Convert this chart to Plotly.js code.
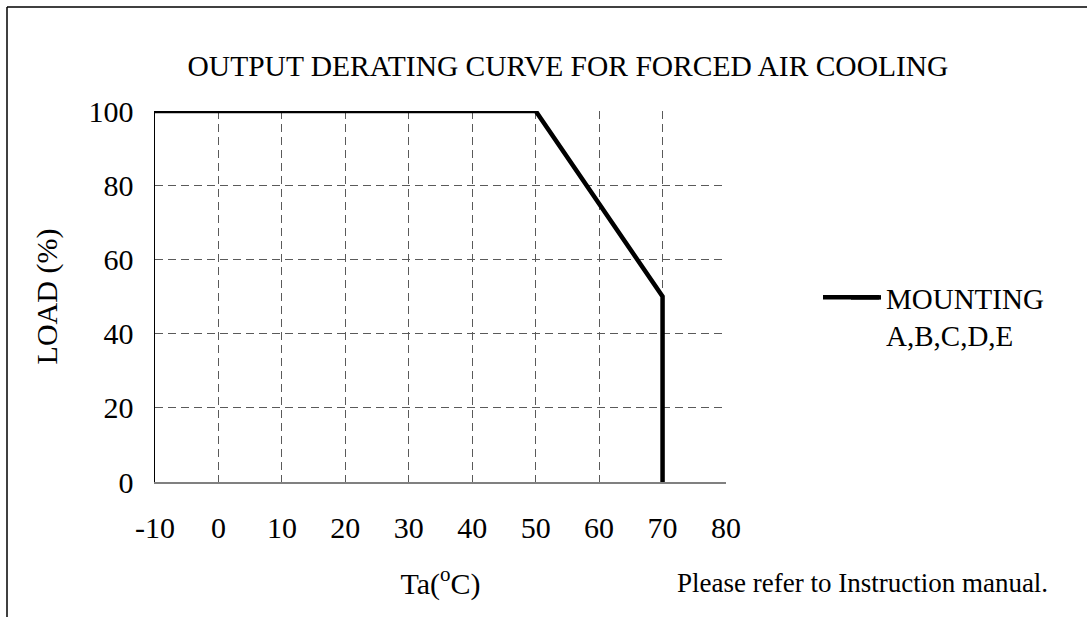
<!DOCTYPE html>
<html>
<head>
<meta charset="utf-8">
<script src="https://cdn.plot.ly/plotly-3.0.1.min.js"></script>
<style>
html,body{margin:0;padding:0;background:#fff;}
#chart{width:1087px;height:617px;}
</style>
</head>
<body>
<div id="chart"></div>
<script>
// Data
var temperature = [-10, 50, 70, 70];      // Ta (°C)
var loadPercent = [100, 100, 50, 0];      // LOAD (%)
var seriesName = "MOUNTING<br>A,B,C,D,E";
var xTicks = [-10, 0, 10, 20, 30, 40, 50, 60, 70, 80];
var yTicks = [0, 20, 40, 60, 80, 100];

var FONT = "Liberation Serif, Times New Roman, serif";

// pixel -> paper helpers (plot area: x 155..726, y 111..482)
function px(x) { return (x - 155) / 571; }
function py(y) { return (482 - y) / 371; }

var trace = {
  x: temperature,
  y: loadPercent,
  type: "scatter",
  mode: "lines",
  name: seriesName,
  line: {color: "#000000", width: 4.5},
  cliponaxis: false,
  hoverinfo: "x+y"
};

var layout = {
  width: 1087,
  height: 617,
  margin: {l: 155, r: 361, t: 111, b: 135},
  paper_bgcolor: "#ffffff",
  plot_bgcolor: "#ffffff",
  font: {family: FONT, color: "#000000", size: 30},
  title: {
    text: "OUTPUT DERATING CURVE FOR FORCED AIR COOLING",
    font: {family: FONT, size: 29.5, color: "#000000"},
    xref: "paper", x: px(568), xanchor: "center",
    yref: "container", y: 1 - 66/617, yanchor: "middle"
  },
  xaxis: {
    range: [-10, 80],
    tickvals: xTicks,
    ticktext: xTicks.map(String),
    showgrid: true,
    gridcolor: "#5a5a5a",
    gridwidth: 1,
    griddash: "8px,5px",
    zeroline: false,
    showline: true,
    linecolor: "#808080",
    linewidth: 2,
    ticks: "",
    ticklabelstandoff: 18,
    tickfont: {family: FONT, size: 30, color: "#000000"},
    title: {text: "Ta(<sup>o</sup>C)", font: {family: FONT, size: 30, color: "#000000"}, standoff: 30},
    automargin: false,
    fixedrange: true
  },
  yaxis: {
    range: [0, 100],
    tickvals: yTicks,
    ticktext: yTicks.map(String),
    showgrid: true,
    gridcolor: "#5a5a5a",
    gridwidth: 1,
    griddash: "8px,5px",
    zeroline: false,
    showline: true,
    linecolor: "#000000",
    linewidth: 1.5,
    ticks: "",
    ticklabelstandoff: 14,
    tickfont: {family: FONT, size: 30, color: "#000000"},
    title: {text: "LOAD (%)", font: {family: FONT, size: 30, color: "#000000"}, standoff: 22},
    automargin: false,
    fixedrange: true
  },
  showlegend: true,
  legend: {
    x: px(846), xanchor: "left",
    y: py(272), yanchor: "top",
    valign: "top",
    bgcolor: "rgba(0,0,0,0)",
    borderwidth: 0,
    font: {family: FONT, size: 29, color: "#000000"},
    itemwidth: 30,
    tracegroupgap: 0
  },
  shapes: [
    // outer frame (left and top edges)
    {type: "line", xref: "paper", yref: "paper",
     x0: px(7), x1: px(7), y0: py(7), y1: py(640),
     line: {color: "#000000", width: 1.5}},
    {type: "line", xref: "paper", yref: "paper",
     x0: px(7), x1: px(1100), y0: py(7), y1: py(7),
     line: {color: "#000000", width: 1.5}}
  ],
  annotations: [
    {xref: "paper", yref: "paper",
     x: px(1050), xanchor: "right",
     y: py(583), yanchor: "middle",
     text: "Please refer to Instruction manual.",
     showarrow: false,
     font: {family: FONT, size: 27, color: "#000000"}}
  ]
};

Plotly.newPlot("chart", [trace], layout, {displayModeBar: false, staticPlot: true}).then(function (gd) {
  // lengthen the legend's line sample to match the reference (ends ~880px, starts ~823px)
  var leg = gd.querySelector(".legend .legendlines path");
  if (leg) {
    var box = leg.getBoundingClientRect();
    var chartBox = gd.getBoundingClientRect();
    var yMid = box.top + box.height / 2 - chartBox.top;
    var xEnd = box.right - chartBox.left - 2;
    Plotly.relayout(gd, {
      "shapes[2]": {type: "line", xref: "paper", yref: "paper",
        x0: px(823), x1: px(xEnd), y0: py(yMid), y1: py(yMid),
        line: {color: "#000000", width: 4.5}}
    });
  }
});
</script>
</body>
</html>
